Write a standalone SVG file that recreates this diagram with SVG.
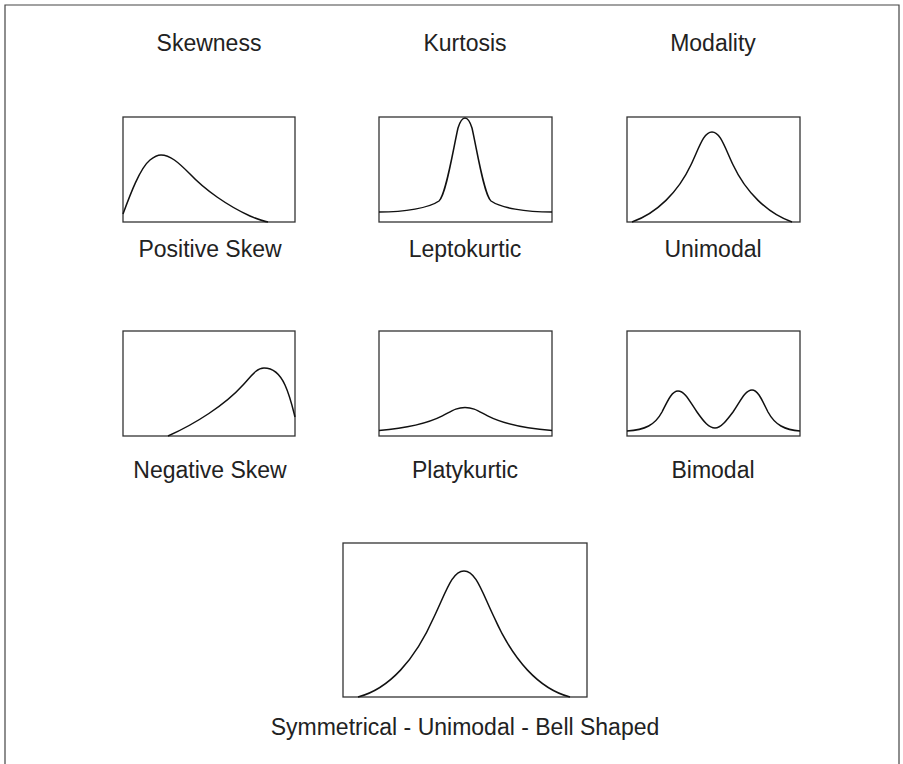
<svg xmlns="http://www.w3.org/2000/svg" width="903" height="764" viewBox="0 0 903 764">
  <style>
    .frame { fill: none; stroke: #444; stroke-width: 1.2; }
    .box { fill: #fff; stroke: #333; stroke-width: 1.3; }
    .curve { fill: none; stroke: #111; stroke-width: 1.5; stroke-linejoin: round; }
    .label { font-family: "Liberation Sans", Arial, Helvetica, sans-serif; font-size: 23px; fill: #222; text-anchor: middle; }
  </style>
  <rect width="903" height="764" fill="#fff"/>
  <!-- outer frame, open at the bottom -->
  <path class="frame" d="M5,764 V5 H899 V764"/>

  <!-- column headings -->
  <g id="headings">
    <text class="label" x="209" y="51">Skewness</text>
    <text class="label" x="465" y="51">Kurtosis</text>
    <text class="label" x="713" y="51">Modality</text>
  </g>

  <g id="positive-skew">
    <rect class="box" x="123" y="117" width="172" height="105"/>
    <path class="curve" d="M123,214 C130,195 140,168 150,160 C155,156 158,155 161,155 C170,155 178,162 190,174 C205,190 228,206 250,216 C257,219 262,221 268,222"/>
    <text class="label" x="210" y="257">Positive Skew</text>
  </g>

  <g id="leptokurtic">
    <rect class="box" x="379" y="117" width="173" height="105"/>
    <path class="curve" d="M379,212 C405,212 429,208 439,201 C446,195 453,150 458,128 C460.5,120 462.5,118 465,118 C467.5,118 469.5,120 472,128 C477,150 484,195 491,201 C501,208 525,212 552,212"/>
    <text class="label" x="465" y="257">Leptokurtic</text>
  </g>

  <g id="unimodal">
    <rect class="box" x="627" y="117" width="173" height="105"/>
    <path class="curve" d="M632,222 C656.6,213.4 678.3,192 691,164.8 C699.4,147 703.6,132 712,132 C720.4,132 724.6,147 733,164.8 C745.7,192 767.4,213.4 792,222"/>
    <text class="label" x="713" y="257">Unimodal</text>
  </g>

  <g id="negative-skew">
    <rect class="box" x="123" y="331" width="172" height="105"/>
    <path class="curve" d="M168,436 C195,424 225,405 243,385 C252,375 257,368 264,368 C274,368 280,374 285,385 C290,396 292,405 295,417"/>
    <text class="label" x="210" y="478">Negative Skew</text>
  </g>

  <g id="platykurtic">
    <rect class="box" x="379" y="331" width="173" height="105"/>
    <path class="curve" d="M379,430.5 C405.4,428.3 428.8,422.8 442.4,415.9 C451.4,411.3 456,407.5 465,407.5 C474,407.5 478.6,411.3 487.6,415.9 C501.2,422.8 524.6,428.3 552,430.5"/>
    <text class="label" x="465" y="478">Platykurtic</text>
  </g>

  <g id="bimodal">
    <rect class="box" x="627" y="331" width="173" height="105"/>
    <path class="curve" d="M627,431 C645,430 655,425 662,412 C668,400 672,391 678,391 C685,391 690,402 697,412 C704,422 709,428 715,428 C721,428 727,420 733,412 C740,402 745,390 752,390 C758,390 762,400 768,412 C775,425 785,430 800,431"/>
    <text class="label" x="713" y="478">Bimodal</text>
  </g>

  <g id="bell-shaped">
    <rect class="box" x="343" y="543" width="244" height="154"/>
    <path class="curve" d="M358,697 C389,689 415,660 434,617 C446,592 452,571 464,571 C476,571 482,592 494,617 C513,660 539,689 570,697"/>
    <text class="label" x="465" y="735">Symmetrical - Unimodal - Bell Shaped</text>
  </g>
</svg>
